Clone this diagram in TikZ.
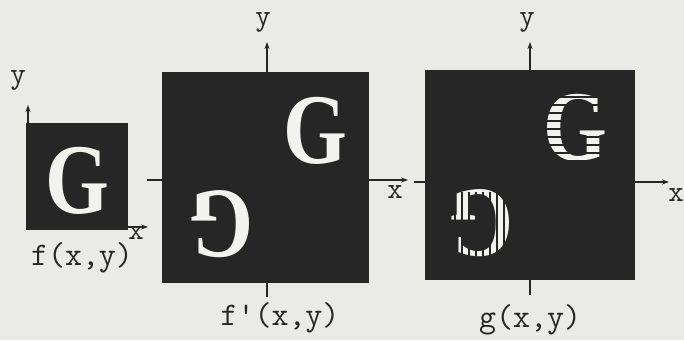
\documentclass[tikz,border=0pt]{standalone}
\usepackage{fontspec}
\newfontfamily\gfont{Liberation Serif}
\usetikzlibrary{arrows.meta}
\definecolor{paperc}{HTML}{EAEAE6}
\definecolor{inkc}{HTML}{262626}
\definecolor{letterc}{HTML}{F2F2EE}
\begin{document}
\begin{tikzpicture}[x=1pt,y=-1pt,
  panel/.style={fill=inkc,draw=none,inner sep=0pt},
  axisline/.style={draw=inkc,line width=1.6pt,-{Stealth[length=7pt,width=5pt]}},
  lbl/.style={text=inkc,inner sep=0pt,font=\ttfamily\fontsize{30}{30}\selectfont},
  flbl/.style={text=inkc,inner sep=0pt,font=\ttfamily\fontsize{33}{33}\selectfont},
  bigG/.style={text=letterc,inner sep=0pt,xscale=0.82,font=\gfont\bfseries\fontsize{100}{100}\selectfont},
  hatch/.style={draw=inkc,line width=1.1pt}]
\fill[paperc] (0,0) rectangle (684,340);
\useasboundingbox (0,0) rectangle (684,340);

% left panel
\node[panel,minimum width=102pt,minimum height=107pt] (A) at (77,176.5) {};
\coordinate (Ay0) at (28,123);
\coordinate (Ay1) at (28,105);
\coordinate (Ax0) at (128,227);
\coordinate (Ax1) at (148,227);
\draw[axisline] (Ay0) -- (Ay1);
\draw[axisline] (Ax0) -- (Ax1);
\node[bigG] (GA) at (77,181) {G};
\node[lbl] (yA) at (18,80) {y};
\node[lbl] (xA) at (136,233) {x};
\node[flbl] (fA) at (82,258) {f(x,y)};

% middle panel
\node[panel,minimum width=207pt,minimum height=211pt] (B) at (265.5,177.5) {};
\coordinate (By0) at (267,297);
\coordinate (By1) at (267,42);
\coordinate (Bx0) at (147,180);
\coordinate (Bx1) at (408,180);
\draw[axisline] (By0) -- (By1);
\draw[axisline] (Bx0) -- (Bx1);
\node[bigG] (GB1) at (315,131) {G};
\node[bigG,rotate=180] (GB2) at (222,224) {G};
\node[lbl] (yB) at (263,22) {y};
\node[lbl] (xB) at (395,192) {x};
\node[flbl] (fB) at (280,318) {f'(x,y)};

% right panel
\node[panel,minimum width=210pt,minimum height=210pt] (C) at (530,175) {};
\coordinate (Cy0) at (530,295);
\coordinate (Cy1) at (530,42);
\coordinate (Cx0) at (414,182);
\coordinate (Cx1) at (669,182);
\draw[axisline] (Cy0) -- (Cy1);
\draw[axisline] (Cx0) -- (Cx1);
\node[bigG] (GC1) at (575,128) {G};
\node[bigG,rotate=180] (GC2) at (482,223) {G};
\foreach \yy in {97,105,113,121,129,137,145,153,161} {
  \draw[hatch] (543,\yy) -- (608,\yy);
}
\foreach \xx in {455,462,469,476,483,490,497,504,511} {
  \draw[hatch] (\xx,192) -- (\xx,256);
}
\node[lbl] (yC) at (527,22) {y};
\node[lbl] (xC) at (676,195) {x};
\node[flbl] (fC) at (530,320) {g(x,y)};
\end{tikzpicture}
\end{document}
